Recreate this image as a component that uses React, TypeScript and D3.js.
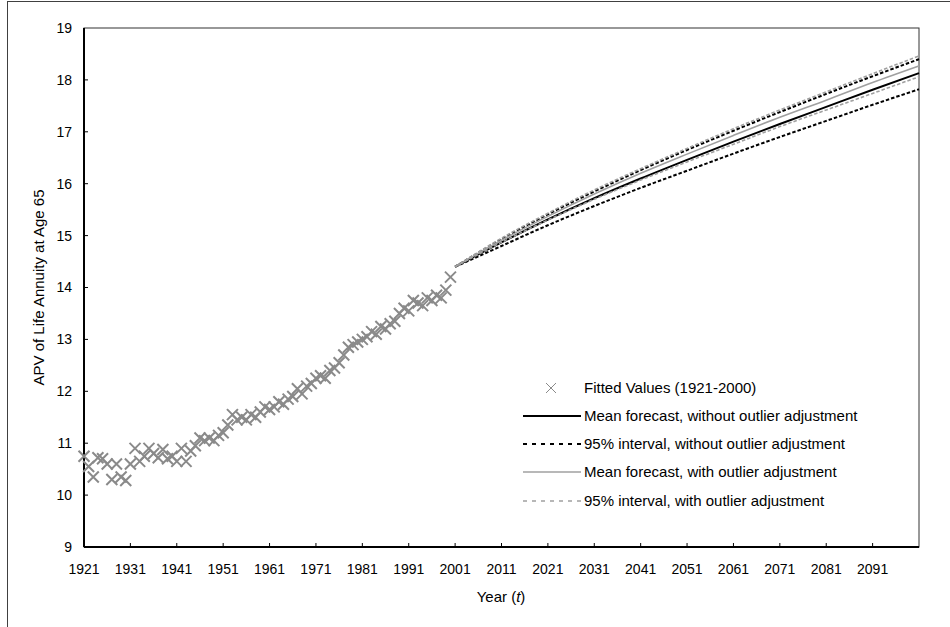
import React from "react";
import * as d3 from "d3";

const fittedYears: number[] = d3.range(1921, 2001);
const fittedValues: number[] = [
  10.75, 10.55, 10.35, 10.72, 10.7, 10.6, 10.3, 10.6, 10.35, 10.28,
  10.6, 10.9, 10.65, 10.75, 10.9, 10.8, 10.72, 10.88, 10.7, 10.75,
  10.65, 10.9, 10.65, 10.85, 10.95, 11.1, 11.05, 11.1, 11.05, 11.15,
  11.2, 11.35, 11.55, 11.45, 11.5, 11.45, 11.55, 11.5, 11.6, 11.7,
  11.65, 11.7, 11.8, 11.75, 11.85, 11.9, 12.05, 11.95, 12.1, 12.15,
  12.25, 12.3, 12.25, 12.4, 12.45, 12.55, 12.7, 12.85, 12.9, 12.95,
  13.0, 13.05, 13.15, 13.1, 13.25, 13.2, 13.3, 13.35, 13.5, 13.6,
  13.55, 13.75, 13.7, 13.65, 13.8, 13.75, 13.85, 13.8, 13.95, 14.2,
];

const forecastYears: number[] = [2001, 2011, 2021, 2031, 2041, 2051, 2061, 2071, 2081, 2091, 2101];
const meanNoAdj: number[] = [14.4, 14.87, 15.31, 15.72, 16.1, 16.46, 16.81, 17.15, 17.48, 17.81, 18.13];
const upperNoAdj: number[] = [14.4, 14.93, 15.41, 15.85, 16.26, 16.65, 17.02, 17.38, 17.73, 18.07, 18.4];
const lowerNoAdj: number[] = [14.4, 14.8, 15.2, 15.57, 15.92, 16.25, 16.58, 16.9, 17.21, 17.52, 17.82];
const meanAdj: number[] = [14.4, 14.91, 15.37, 15.8, 16.2, 16.57, 16.93, 17.28, 17.61, 17.95, 18.27];
const upperAdj: number[] = [14.4, 14.95, 15.43, 15.88, 16.29, 16.68, 17.06, 17.42, 17.77, 18.12, 18.46];
const lowerAdj: number[] = [14.4, 14.87, 15.3, 15.7, 16.07, 16.42, 16.76, 17.1, 17.42, 17.74, 18.06];

const xTicks: number[] = [1921, 1931, 1941, 1951, 1961, 1971, 1981, 1991, 2001, 2011, 2021, 2031, 2041, 2051, 2061, 2071, 2081, 2091];
const yTicks: number[] = [9, 10, 11, 12, 13, 14, 15, 16, 17, 18, 19];

const legendLabels: string[] = [
  "Fitted Values (1921-2000)",
  "Mean forecast, without outlier adjustment",
  "95% interval, without outlier adjustment",
  "Mean forecast, with outlier adjustment",
  "95% interval, with outlier adjustment",
];

const FONT = "'Liberation Sans', Arial, sans-serif";

export default function App() {
  const W = 950, H = 627;
  const L = 84, T = 28, R = 919, B = 547;
  const x = d3.scaleLinear().domain([1921, 2101]).range([L, R]);
  const y = d3.scaleLinear().domain([9, 19]).range([B, T]);
  const line = d3
    .line<number>()
    .x((_, i) => x(forecastYears[i]))
    .y((d) => y(d))
    .curve(d3.curveMonotoneX);

  const series = [
    { v: lowerNoAdj, color: "#000", w: 2, dash: "3.5,2" },
    { v: upperNoAdj, color: "#000", w: 2, dash: "3.5,2" },
    { v: meanNoAdj, color: "#000", w: 2, dash: "" },
    { v: lowerAdj, color: "#a0a0a0", w: 1.6, dash: "3.5,2" },
    { v: upperAdj, color: "#a0a0a0", w: 1.6, dash: "3.5,2" },
    { v: meanAdj, color: "#a0a0a0", w: 1.6, dash: "" },
  ];

  const cross = (cx: number, cy: number, s: number) =>
    `M${cx - s},${cy - s}L${cx + s},${cy + s}M${cx - s},${cy + s}L${cx + s},${cy - s}`;

  const legX1 = 523, legX2 = 581, legText = 584;
  const legY = [388, 416, 444, 472, 501];
  const legStyles = [
    null,
    { color: "#000", w: 2, dash: "" },
    { color: "#000", w: 2, dash: "4,5" },
    { color: "#a0a0a0", w: 1.6, dash: "" },
    { color: "#a0a0a0", w: 1.6, dash: "4,5" },
  ];

  return (
    <svg width={W} height={H} style={{ position: "absolute", left: 0, top: 0, background: "#fff" }} fontFamily={FONT}>
      <rect x={0} y={0} width={W} height={H} fill="#fff" />
      <rect x={7.5} y={1.5} width={1000} height={700} fill="none" stroke="#404040" strokeWidth={1} />
      <rect x={L} y={T} width={R - L} height={B - T} fill="none" stroke="#333" strokeWidth={1} />
      <line x1={L} y1={T} x2={L} y2={B} stroke="#000" strokeWidth={2} />
      <line x1={L} y1={B} x2={R} y2={B} stroke="#000" strokeWidth={2} />
      {yTicks.map((t) => (
        <g key={"y" + t}>
          {t > 9 && t < 19 && <line x1={L} x2={L + 4} y1={y(t)} y2={y(t)} stroke="#000" strokeWidth={1} />}
          <text x={72} y={y(t)} dy="0.35em" textAnchor="end" fontSize={14} fill="#000">
            {t}
          </text>
        </g>
      ))}
      {xTicks.map((t) => (
        <g key={"x" + t}>
          {t > 1921 && <line x1={x(t)} x2={x(t)} y1={B} y2={B - 4} stroke="#000" strokeWidth={1} />}
          <text x={x(t)} y={574} textAnchor="middle" fontSize={14} fill="#000">
            {t}
          </text>
        </g>
      ))}
      <text
        transform={`translate(44,${(T + B) / 2}) rotate(-90)`}
        textAnchor="middle"
        fontSize={15}
        fill="#000"
      >
        APV of Life Annuity at Age 65
      </text>
      <text x={501} y={602} textAnchor="middle" fontSize={15} fill="#000">
        Year (<tspan fontStyle="italic">t</tspan>)
      </text>
      {series.map((s, i) => (
        <path
          key={"s" + i}
          d={line(s.v) || ""}
          fill="none"
          stroke={s.color}
          strokeWidth={s.w}
          strokeDasharray={s.dash || undefined}
        />
      ))}
      {fittedValues.map((v, i) => (
        <path
          key={"m" + i}
          d={cross(x(fittedYears[i]), y(v), 5.5)}
          stroke="#8a8a8a"
          strokeWidth={2}
          fill="none"
        />
      ))}
      <path d={cross(551, legY[0], 5)} stroke="#8a8a8a" strokeWidth={1} fill="none" />
      {legStyles.map((s, i) =>
        s ? (
          <line
            key={"l" + i}
            x1={legX1}
            x2={legX2}
            y1={legY[i]}
            y2={legY[i]}
            stroke={s.color}
            strokeWidth={s.w}
            strokeDasharray={s.dash || undefined}
          />
        ) : null
      )}
      {legendLabels.map((t, i) => (
        <text key={"t" + i} x={legText} y={legY[i]} dy="0.35em" fontSize={15} fill="#000">
          {t}
        </text>
      ))}
    </svg>
  );
}
